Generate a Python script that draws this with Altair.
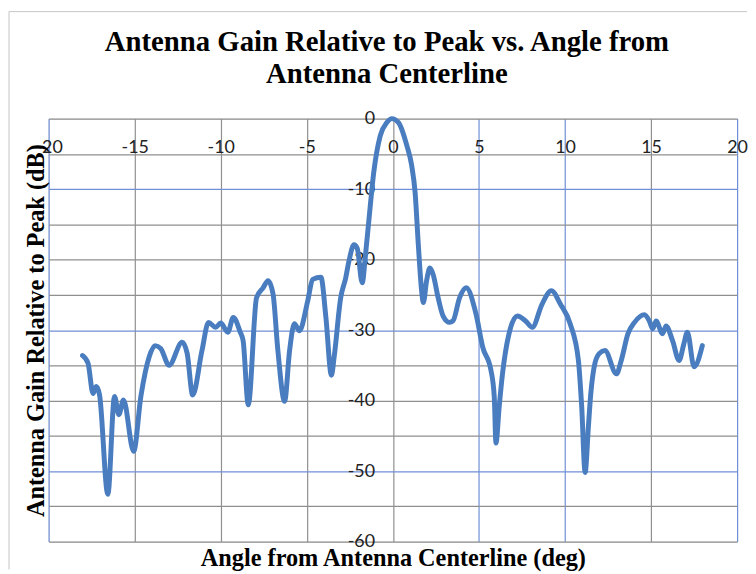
import altair as alt
import pandas as pd

# Angle from antenna centerline (deg)
angle = [-18.03, -17.71, -17.42, -17.23, -17.04, -16.56, -16.17, -15.92, -15.65, -15.06,
         -14.64, -14.16, -13.81, -13.49, -13.00, -12.24, -11.95, -11.63, -11.09, -10.71,
         -10.30, -10.00, -9.59, -9.27, -8.88, -8.70, -8.40, -7.92, -7.54, -7.25,
         -6.96, -6.68, -6.29, -6.00, -5.72, -5.43, -4.95, -4.66, -4.18, -3.89,
         -3.57, -3.41, -3.03, -2.74, -2.55, -2.26, -2.07, -1.78, -1.59, -1.40,
         -1.11, -0.73, -0.35, -0.06, 0.33, 0.81, 1.09, 1.29, 1.48, 1.67,
         1.77, 1.96, 2.15, 2.34, 2.63, 2.92, 3.30, 3.49, 3.88, 4.26,
         4.83, 5.22, 5.70, 5.89, 5.99, 6.18, 6.37, 6.75, 7.23, 7.71,
         8.10, 8.67, 9.21, 9.73, 10.30, 10.78, 10.97, 11.17, 11.36, 11.50,
         11.74, 12.00, 12.32, 12.99, 13.27, 13.66, 14.04, 14.62, 14.90, 15.10,
         15.29, 15.67, 15.87, 16.25, 16.63, 16.90, 17.11, 17.50, 17.98]

# Antenna gain relative to peak (dB)
gain = [-33.6, -34.7, -39.0, -38.0, -39.2, -53.3, -39.4, -42.0, -39.9, -47.2,
        -39.4, -33.8, -32.2, -32.6, -35.0, -31.7, -33.3, -39.2, -32.9, -28.9,
        -29.6, -29.0, -30.3, -28.2, -30.2, -31.5, -40.6, -25.4, -24.0, -23.0,
        -24.9, -32.9, -40.1, -32.9, -29.1, -30.1, -25.9, -22.8, -22.5, -28.2,
        -36.4, -33.8, -25.4, -22.6, -20.2, -17.9, -18.4, -23.3, -19.3, -14.6,
        -7.6, -2.4, -0.56, 0.0, -0.56, -3.8, -6.6, -10.4, -17.9, -24.4,
        -26.1, -23.0, -21.2, -22.1, -25.4, -28.0, -28.9, -28.7, -25.4, -24.0,
        -27.7, -32.4, -35.7, -39.4, -46.0, -40.8, -36.2, -30.5, -28.0, -28.7,
        -29.6, -26.3, -24.4, -26.3, -29.1, -34.3, -40.8, -50.2, -43.7, -39.0,
        -34.7, -33.3, -32.9, -36.2, -34.3, -30.5, -28.9, -27.8, -28.7, -29.8,
        -28.7, -30.5, -29.4, -31.5, -34.3, -32.0, -30.3, -35.2, -32.2]

x_ticks = [-20, -15, -10, -5, 0, 5, 10, 15, 20]
y_ticks = [-60, -55, -50, -45, -40, -35, -30, -25, -20, -15, -10, -5, 0]

W, H = 695, 427
df = pd.DataFrame({"angle": angle, "gain": gain})

BLUE = "#6f8fd6"
GRAY = "#8f8f8f"
SERIF = "Liberation Serif"
SANS = "Lato"

x_axis = alt.Axis(
    values=x_ticks, orient="bottom", offset=-H, ticks=False, tickSize=0, domain=False,
    labelExpr="'' + datum.value", labelFont=SANS, labelFontSize=18, labelColor="#222222",
    labelPadding=20, labelFlush=False, labelOverlap=False,
    gridColor={"condition": {"test": "indexof([-20, 5, 10, 20], datum.value) >= 0", "value": BLUE},
               "value": GRAY},
    gridWidth=1.2, gridOpacity=1,
    title="Angle from Antenna Centerline (deg)", titleFont=SERIF, titleFontSize=24.5,
    titleFontWeight="bold", titleColor="black", titleY=451, titleBaseline="alphabetic",
)

y_axis = alt.Axis(
    values=y_ticks, orient="left", offset=-348, ticks=False, tickSize=0, domain=False,
    labelExpr="datum.value % 10 == 0 ? '' + datum.value : ''",
    labelFont=SANS, labelFontSize=18, labelColor="#222222", labelPadding=19,
    labelFlush=False, labelOverlap=False,
    gridColor={"condition": {"test": "indexof([-10, -30, -50], datum.value) >= 0", "value": BLUE},
               "value": GRAY},
    gridWidth=1.2, gridOpacity=1,
    title="Antenna Gain Relative to Peak (dB)", titleFont=SERIF, titleFontSize=24.5,
    titleFontWeight="bold", titleColor="black", titleX=-360, titleY=213.5,
    titleBaseline="middle", titleAlign="center", titleAngle=-90,
)

line = alt.Chart(df).mark_line(
    color="#4a7dbf", strokeWidth=5, strokeCap="round", strokeJoin="round",
    interpolate="monotone",
).encode(
    x=alt.X("angle:Q", scale=alt.Scale(domain=[-20, 20], nice=False), axis=x_axis),
    y=alt.Y("gain:Q", scale=alt.Scale(domain=[-60, 0], nice=False), axis=y_axis),
)

frame_df = pd.DataFrame({"k": [0]})
frame_top = alt.Chart(frame_df).mark_rule(color="#c4c4c4", strokeWidth=1).encode(
    x=alt.value(-40), x2=alt.value(W + 10), y=alt.value(-108)
)
frame_left = alt.Chart(frame_df).mark_rule(color="#c4c4c4", strokeWidth=1).encode(
    x=alt.value(-40), y=alt.value(-108), y2=alt.value(H + 28)
)

chart = alt.layer(frame_top, frame_left, line).properties(
    width=W, height=H, padding=0,
    title=alt.TitleParams(
        text=["Antenna Gain Relative to Peak vs. Angle from", "Antenna Centerline"],
        font=SERIF, fontSize=29, fontWeight="bold", color="black",
        anchor="middle", frame="group", dx=-6, lineHeight=33, offset=-79,
    ),
).configure_view(strokeWidth=0).configure(background="white")

chart.save("out.html", embed_options={"renderer": "svg", "actions": False})
